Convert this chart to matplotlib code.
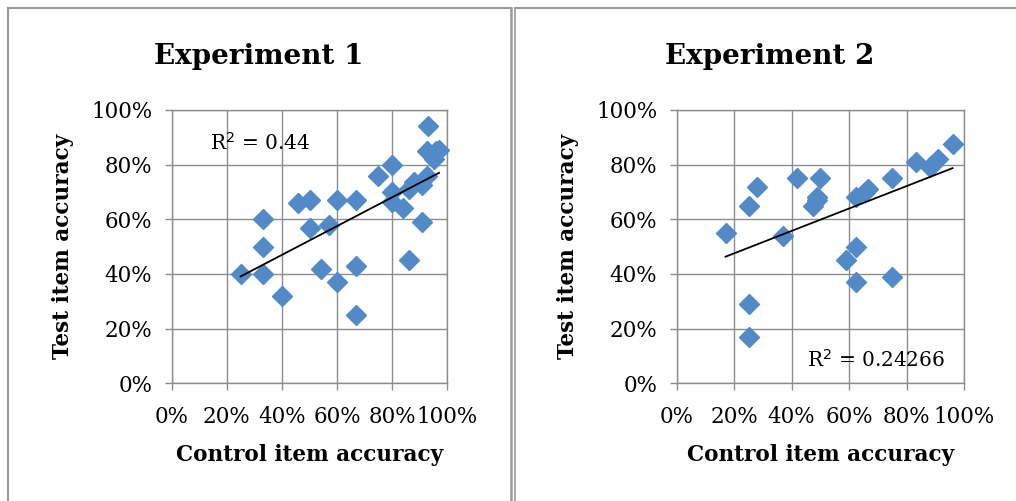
import numpy as np
import matplotlib
matplotlib.use("Agg")
import matplotlib.pyplot as plt
from matplotlib.lines import Line2D
from matplotlib.ticker import PercentFormatter

# Experiment 1: control vs test item accuracy
exp1_control = [0.25, 0.333, 0.333, 0.333, 0.40, 0.46, 0.50, 0.50, 0.54, 0.57,
                0.60, 0.60, 0.67, 0.67, 0.67, 0.75, 0.80, 0.80, 0.80, 0.84,
                0.86, 0.86, 0.88, 0.91, 0.91, 0.93, 0.925, 0.925, 0.96, 0.95,
                0.97]
exp1_test = [0.40, 0.60, 0.50, 0.40, 0.32, 0.66, 0.67, 0.57, 0.42, 0.58,
             0.67, 0.37, 0.67, 0.43, 0.25, 0.76, 0.80, 0.70, 0.665, 0.64,
             0.45, 0.71, 0.735, 0.59, 0.725, 0.94, 0.85, 0.76, 0.85, 0.82,
             0.855]

# Experiment 2
exp2_control = [0.17, 0.25, 0.28, 0.25, 0.25, 0.37, 0.42, 0.475, 0.49, 0.50,
                0.49, 0.59, 0.625, 0.625, 0.625, 0.655, 0.667, 0.75, 0.75,
                0.833, 0.88, 0.91, 0.96, 0.89]
exp2_test = [0.55, 0.65, 0.72, 0.29, 0.17, 0.54, 0.75, 0.65, 0.68, 0.75,
             0.67, 0.45, 0.50, 0.37, 0.68, 0.70, 0.71, 0.75, 0.39,
             0.81, 0.79, 0.82, 0.875, 0.80]

titles = ["Experiment 1", "Experiment 2"]
r2_labels = ["R$^2$ = 0.44", "R$^2$ = 0.24266"]

TICKS = [0, 0.2, 0.4, 0.6, 0.8, 1.0]
BLUE = "#5289c7"
GRID = "#8c8c8c"
SERIF = "DejaVu Serif"

W, H = 1016, 501


def fx(px):
    return px / W


def fy(py):
    return 1 - py / H


def draw_panel(fig, rect, xs, ys, r2_text, r2_pos):
    ax = fig.add_axes(rect)
    ax.set_xlim(0, 1)
    ax.set_ylim(0, 1)
    ax.set_xticks(TICKS)
    ax.set_yticks(TICKS)
    ax.xaxis.set_major_formatter(PercentFormatter(1.0, decimals=0))
    ax.yaxis.set_major_formatter(PercentFormatter(1.0, decimals=0))
    ax.grid(True, color=GRID, lw=1.0, zorder=0)
    for s in ax.spines.values():
        s.set_color(GRID)
        s.set_linewidth(1.0)
    ax.tick_params(direction="out", length=5, width=1.0, color=GRID,
                   labelsize=15.5, pad=9)
    ax.tick_params(axis="x", pad=11)
    for lab in ax.get_xticklabels() + ax.get_yticklabels():
        lab.set_fontfamily(SERIF)
    ax.set_axisbelow(True)

    ax.plot(xs, ys, linestyle="none", marker="D", markersize=10,
            color=BLUE, markeredgecolor=BLUE, zorder=3, clip_on=False)

    # linear trend line
    slope, intercept = np.polyfit(xs, ys, 1)
    tx = np.array([min(xs), max(xs)])
    ax.plot(tx, slope * tx + intercept, color="black", lw=1.3, zorder=4)

    ax.text(r2_pos[0], r2_pos[1], r2_text, transform=ax.transAxes,
            fontsize=14.5, family=SERIF, ha="left", va="center", zorder=5)

    ax.set_xlabel("Control item accuracy", fontsize=15.5, fontweight="bold",
                  family=SERIF, labelpad=12)
    ax.set_ylabel("Test item accuracy", fontsize=15.5, fontweight="bold",
                  family=SERIF, labelpad=12)
    return ax


def main():
    fig = plt.figure(figsize=(W / 100, H / 100), dpi=100)

    # left panel
    draw_panel(fig,
               [fx(171.7), fy(383.3), fx(447.3 - 171.7), (383.3 - 110) / H],
               exp1_control, exp1_test, r2_labels[0], (0.14, 0.88))
    fig.text(fx(259), fy(57), titles[0], fontsize=20, fontweight="bold",
             family=SERIF, ha="center", va="center")

    # right panel
    draw_panel(fig,
               [fx(676.7), fy(383.3), fx(964 - 676.7), (383.3 - 110) / H],
               exp2_control, exp2_test, r2_labels[1], (0.455, 0.085))
    fig.text(fx(770), fy(57), titles[1], fontsize=20, fontweight="bold",
             family=SERIF, ha="center", va="center")

    # table cell borders
    border = "#9a9a9a"
    fig.add_artist(Line2D([fx(7.5), fx(7.5)], [0, fy(8)], color=border, lw=1.5))
    fig.add_artist(Line2D([fx(7.5), fx(511)], [fy(8), fy(8)], color=border, lw=1.5))
    fig.add_artist(Line2D([fx(511), fx(511)], [0, fy(8)], color=border, lw=1.8))
    fig.add_artist(Line2D([fx(514.5), fx(514.5)], [0, fy(8)], color=border, lw=1.2))
    fig.add_artist(Line2D([fx(514.5), 1], [fy(8), fy(8)], color=border, lw=1.5))

    fig.savefig("out.png", dpi=100)


if __name__ == "__main__":
    main()
